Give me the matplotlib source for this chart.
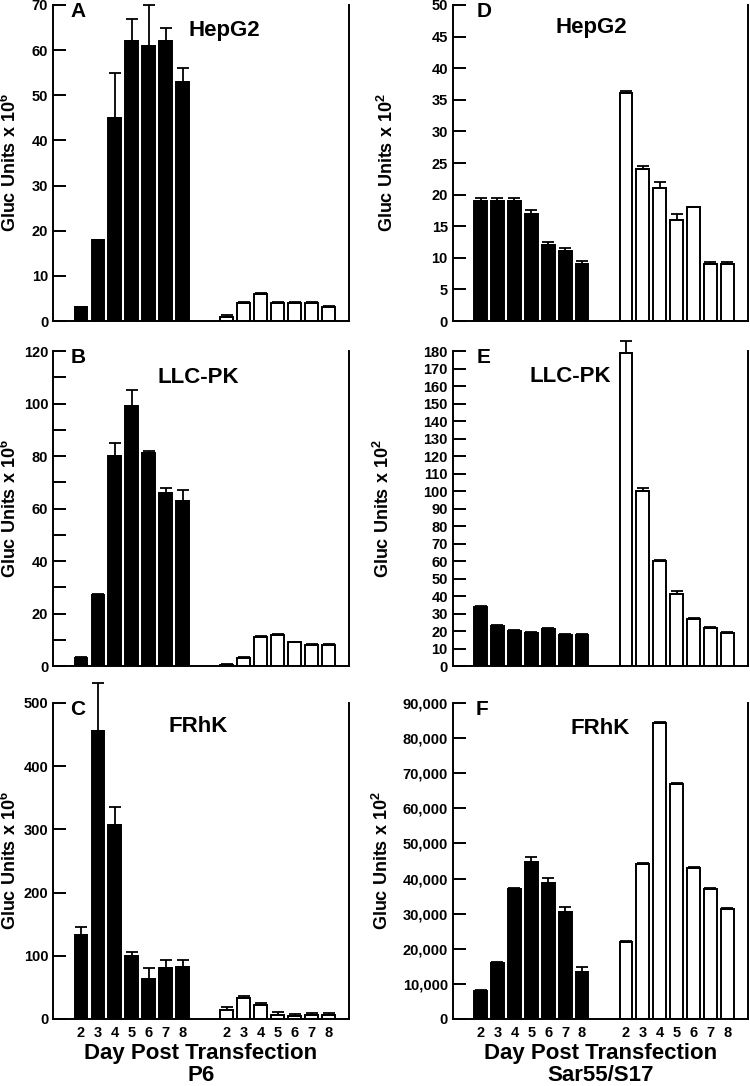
import matplotlib
matplotlib.use("Agg")
import matplotlib.pyplot as plt
from matplotlib.ticker import MultipleLocator, FuncFormatter
import numpy as np

plt.rcParams['font.family'] = ['Liberation Sans', 'DejaVu Sans']
plt.rcParams['font.weight'] = 'bold'
plt.rcParams['mathtext.fontset'] = 'custom'
plt.rcParams['mathtext.rm'] = 'Liberation Sans:bold'
plt.rcParams['mathtext.it'] = 'Liberation Sans:bold'
plt.rcParams['mathtext.bf'] = 'Liberation Sans:bold'

days = ["2", "3", "4", "5", "6", "7", "8"]

# P6 (left column), Gluc units x 10^6
hepg2_p6_filled = [3, 18, 45, 62, 61, 62, 53]
hepg2_p6_filled_err = [0, 0, 10, 5, 9, 3, 3]
hepg2_p6_open = [1, 4, 6, 4, 4, 4, 3]
hepg2_p6_open_err = [0.3, 0.3, 0.3, 0.3, 0.3, 0.3, 0.3]

llcpk_p6_filled = [3, 27, 80, 99, 81, 66, 63]
llcpk_p6_filled_err = [0.6, 0.6, 5, 6, 1, 2, 4]
llcpk_p6_open = [0.5, 3, 11, 12, 9, 8, 8]
llcpk_p6_open_err = [0.3, 0.3, 0.3, 0.4, 0.3, 0.3, 0.3]

frhk_p6_filled = [133, 455, 307, 100, 64, 80, 83]
frhk_p6_filled_err = [13, 77, 28, 6, 16, 14, 10]
frhk_p6_open = [15, 33, 22, 7, 5, 7, 7]
frhk_p6_open_err = [4, 4, 4, 4, 3, 3, 3]

# Sar55/S17 (right column), Gluc units x 10^2
hepg2_sar_filled = [19, 19, 19, 17, 12, 11, 9]
hepg2_sar_filled_err = [0.5, 0.5, 0.5, 0.5, 0.5, 0.5, 0.5]
hepg2_sar_open = [36, 24, 21, 16, 18, 9, 9]
hepg2_sar_open_err = [0.4, 0.6, 1, 1, 0, 0.4, 0.4]

llcpk_sar_filled = [34, 23, 20, 19, 21, 18, 18]
llcpk_sar_filled_err = [0.5, 0.5, 0.5, 0.5, 0.5, 0.5, 0.5]
llcpk_sar_open = [179, 100, 60, 41, 27, 22, 19]
llcpk_sar_open_err = [6.5, 1.5, 0.5, 2, 0.5, 0.5, 0.5]

frhk_sar_filled = [8000, 16000, 37000, 44700, 38800, 30500, 13300]
frhk_sar_filled_err = [300, 300, 300, 1300, 1300, 1400, 1400]
frhk_sar_open = [22000, 44000, 84200, 66800, 43000, 37000, 31300]
frhk_sar_open_err = [300, 300, 400, 300, 300, 300, 300]

panels = [
    # letter, title, filled, filled err, open, open err, ymax, major, minor, label, rect, label x, (letter x, title x, title y)
    ("A", "HepG2", hepg2_p6_filled, hepg2_p6_filled_err, hepg2_p6_open, hepg2_p6_open_err,
     70, 10, 10, "Gluc Units x 10$^{6}$", [0.0707, 0.7044, 0.3947, 0.291], -0.113, (0.083, 0.58, 0.92)),
    ("B", "LLC-PK", llcpk_p6_filled, llcpk_p6_filled_err, llcpk_p6_open, llcpk_p6_open_err,
     120, 20, 10, "Gluc Units x 10$^{6}$", [0.0707, 0.3867, 0.3947, 0.290], -0.113, (0.085, 0.49, 0.917)),
    ("C", "FRhK", frhk_p6_filled, frhk_p6_filled_err, frhk_p6_open, frhk_p6_open_err,
     500, 100, 100, "Gluc Units x 10$^{6}$", [0.0707, 0.0617, 0.3947, 0.291], -0.113, (0.085, 0.49, 0.924)),
    ("D", "HepG2", hepg2_sar_filled, hepg2_sar_filled_err, hepg2_sar_open, hepg2_sar_open_err,
     50, 5, 5, "Gluc Units x 10$^{2}$", [0.6036, 0.7044, 0.3933, 0.291], -0.189, (0.106, 0.47, 0.93)),
    ("E", "LLC-PK", llcpk_sar_filled, llcpk_sar_filled_err, llcpk_sar_open, llcpk_sar_open_err,
     180, 10, 10, "Gluc Units x 10$^{2}$", [0.6036, 0.3867, 0.3933, 0.290], -0.203, (0.106, 0.40, 0.92)),
    ("F", "FRhK", frhk_sar_filled, frhk_sar_filled_err, frhk_sar_open, frhk_sar_open_err,
     90000, 10000, 10000, "Gluc Units x 10$^{2}$", [0.6036, 0.0617, 0.3933, 0.291], -0.206, (0.10, 0.50, 0.918)),
]

xlabels = {"C": "Day Post Transfection\nP6", "F": "Day Post Transfection\nSar55/S17"}

fig = plt.figure(figsize=(7.5, 10.86), dpi=100)

x_filled = np.arange(7)
x_open = np.arange(7) + 8.6
lw = 1.4

for (letter, title, fv, fe, ov, oe, ymax, major, minor, ylabel,
     rect, labx, (letx, titx, tity)) in panels:
    ax = fig.add_axes(rect)
    ax.bar(x_filled, fv, width=0.76, color='black', edgecolor='black', linewidth=lw, zorder=2)
    ax.bar(x_open, ov, width=0.76, color='white', edgecolor='black', linewidth=lw, zorder=2)
    for xs, vals, errs in [(x_filled, fv, fe), (x_open, ov, oe)]:
        errs = np.array(errs, dtype=float)
        ax.errorbar(xs, vals, yerr=[np.zeros_like(errs), errs], fmt='none', ecolor='black',
                    elinewidth=1.3, capsize=4, capthick=1.3, zorder=3, clip_on=False)

    ax.set_xlim(-1.65, 15.8)
    ax.set_ylim(0, ymax)
    ax.spines['top'].set_visible(False)
    for s in ['left', 'right', 'bottom']:
        ax.spines[s].set_linewidth(lw)
    ax.yaxis.set_major_locator(MultipleLocator(major))
    ax.yaxis.set_minor_locator(MultipleLocator(minor))
    if ymax >= 10000:
        ax.yaxis.set_major_formatter(FuncFormatter(lambda v, p: "{:,}".format(int(v))))
    ax.tick_params(axis='y', which='both', direction='in', length=9, width=lw,
                   labelsize=10.5, pad=3.5, right=False)
    for t in ax.get_yticklabels():
        t.set_fontweight('bold')

    if letter in xlabels:
        ax.set_xticks(list(x_filled) + list(x_open))
        ax.set_xticklabels(days + days, fontsize=10.5, fontweight='bold')
        ax.tick_params(axis='x', length=0, pad=5)
        ax.set_xlabel(xlabels[letter], fontsize=16, fontweight='bold', linespacing=1.1, labelpad=2)
    else:
        ax.set_xticks([])

    ax.set_ylabel(ylabel, fontsize=13, fontweight='bold')
    ax.yaxis.set_label_coords(labx, 0.5)

    ax.text(letx, 0.98, letter, transform=ax.transAxes, fontsize=15, fontweight='bold',
            ha='center', va='center')
    ax.text(titx, tity, title, transform=ax.transAxes, fontsize=16, fontweight='bold',
            ha='center', va='center')

fig.savefig("out.png", dpi=100)
